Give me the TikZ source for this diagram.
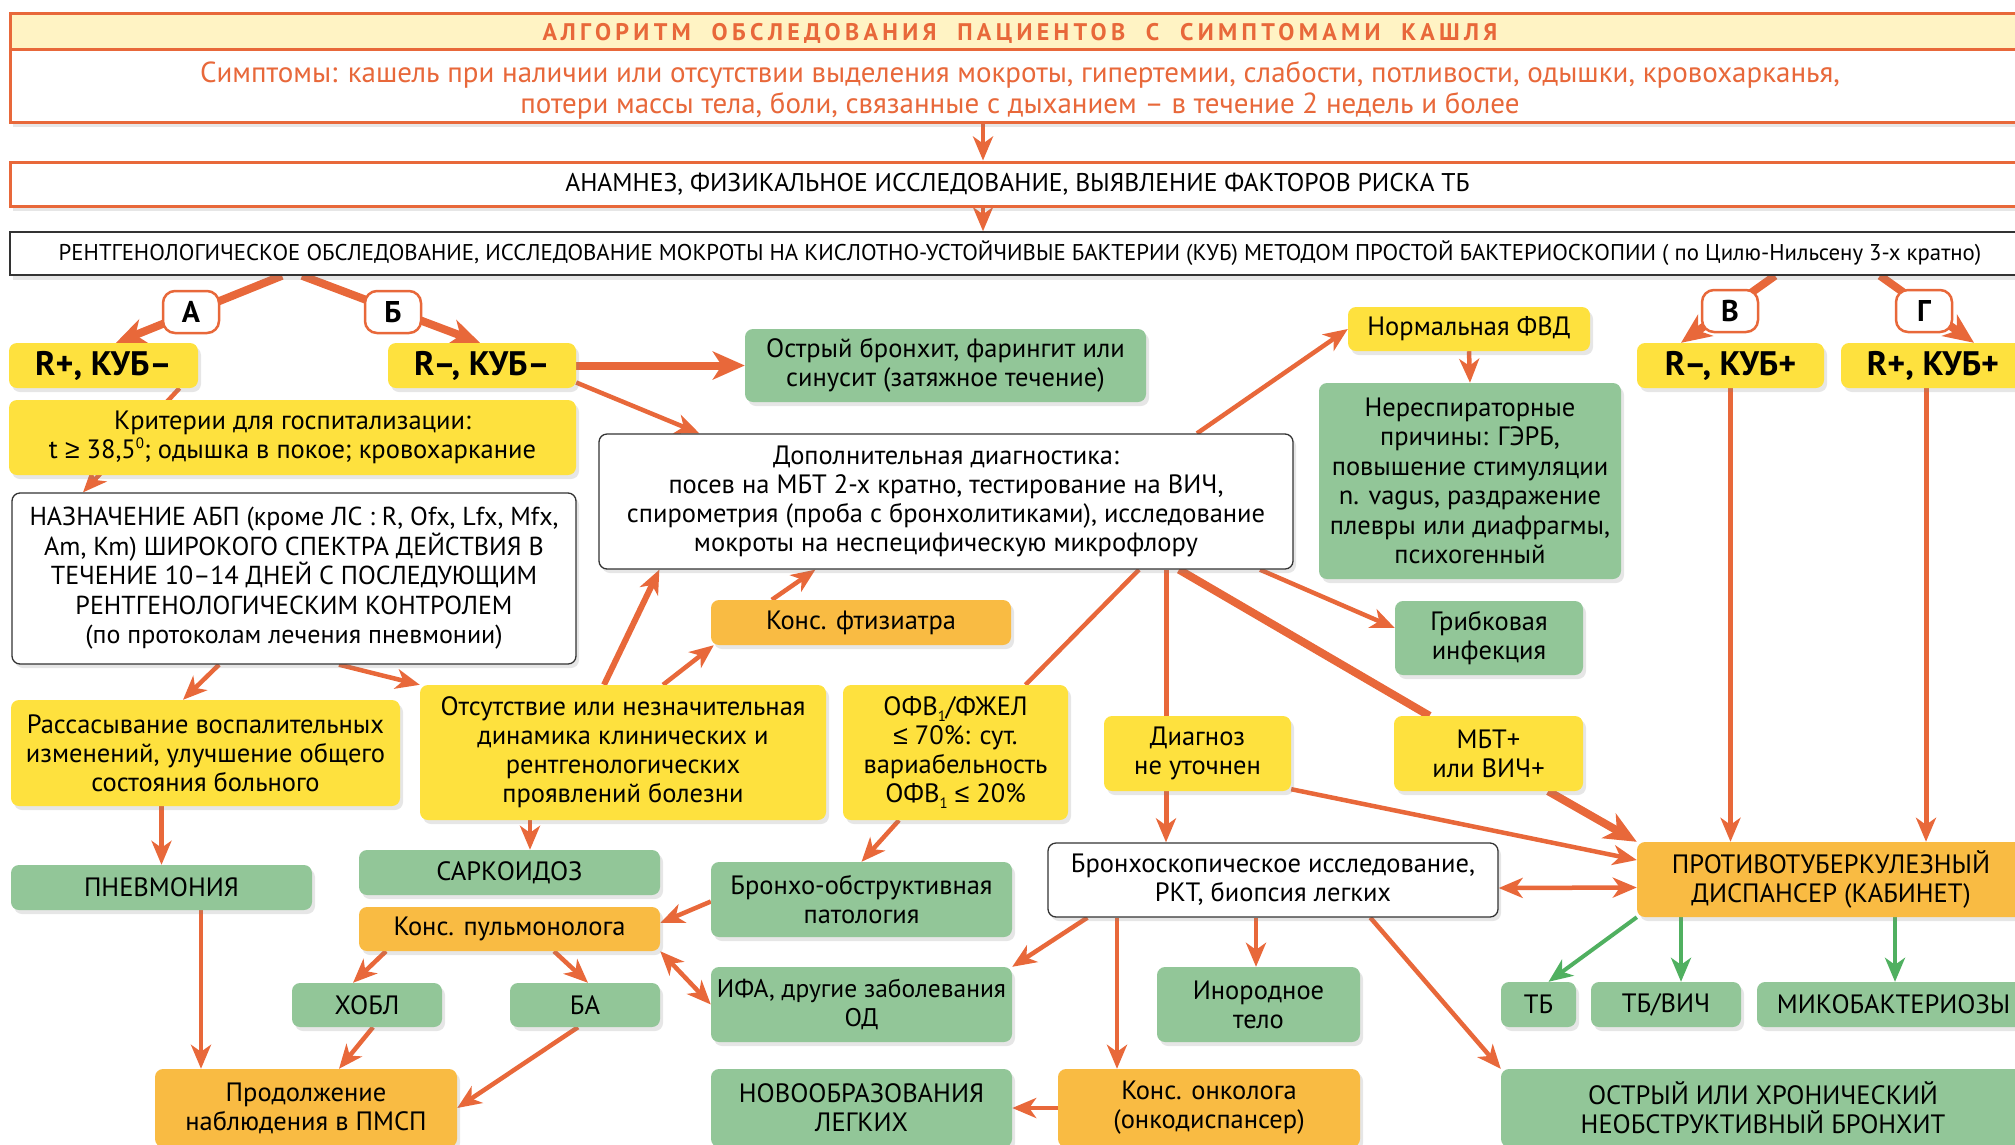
\documentclass[tikz,border=0pt]{standalone}
\usepackage{fontspec}
\setmainfont{PT Sans}
\newfontfamily\titlefont[LetterSpace=18]{PT Sans}
\newfontfamily\symf{Liberation Sans}
\usetikzlibrary{arrows.meta,shadows}
\definecolor{cyel}{HTML}{FEE13E}
\definecolor{cgrn}{HTML}{92C698}
\definecolor{corg}{HTML}{F9BB43}
\definecolor{carr}{HTML}{E8683A}
\definecolor{cband}{HTML}{FFF3C4}
\definecolor{cgarr}{HTML}{50B060}
\definecolor{cdark}{HTML}{333333}
\newcommand\fsz{\fontsize{26.5}{29}\selectfont}
\newcommand\fbig{\fontsize{34}{36}\selectfont\bfseries}
\newcommand\fsmall{\fontsize{22.8}{25}\selectfont}
\newcommand\mygeq{{\symf ≥}}
\newcommand\myleq{{\symf ≤}}
\newcommand\supzero{\raisebox{0.75ex}{\fontsize{15}{15}\selectfont 0}}
\newcommand\subone{\raisebox{-0.45ex}{\fontsize{15}{15}\selectfont 1}}
\pgfdeclarelayer{bg}
\pgfsetlayers{bg,main}
\tikzset{
 box/.style={rounded corners=8pt, inner sep=0pt, align=center, font=\fsz,
   drop shadow={opacity=0.2, shadow xshift=3pt, shadow yshift=-4pt}},
 ybox/.style={box, fill=cyel},
 gbox/.style={box, fill=cgrn},
 obox/.style={box, fill=corg},
 wbox/.style={box, fill=white, draw=cdark, line width=1.3pt},
 lbl/.style={rounded corners=12pt, fill=white, draw=carr, line width=2.5pt, minimum width=56pt, minimum height=42pt, inner sep=0pt, font=\fontsize{30}{31}\selectfont\bfseries},
 ln/.style={draw=carr, line width=4.5pt},
 arr/.style={ln, -{Stealth[length=24pt,width=20pt,inset=7pt]}},
 arrt/.style={draw=carr, line width=8pt, -{Stealth[length=32pt,width=28pt,inset=9pt]}},
 lnt/.style={draw=carr, line width=8pt},
 darr/.style={ln, {Stealth[length=24pt,width=20pt,inset=7pt]}-{Stealth[length=24pt,width=20pt,inset=7pt]}},
 garr/.style={draw=cgarr, line width=4pt, -{Stealth[length=24pt,width=20pt,inset=7pt]}},
}
\begin{document}
\begin{tikzpicture}[x=1pt,y=-1pt]
\useasboundingbox (0,0) rectangle (2015,1144);
% header
\node[draw=carr, line width=3pt, fill=white, minimum width=2015pt, minimum height=73pt, inner sep=0pt,
  drop shadow={opacity=0.2, shadow xshift=3pt, shadow yshift=-5pt}] (symp) at (1017.5,85.5) {};
\node[inner sep=0pt, align=center, text=carr, font=\fontsize{29}{31}\selectfont] (symptxt) at (1020,90)
  {Симптомы: кашель при наличии или отсутствии выделения мокроты, гипертемии, слабости, потливости, одышки, кровохарканья,\\ потери массы тела, боли, связанные с дыханием – в течение 2 недель и более};
\node[draw=carr, line width=3pt, fill=cband, minimum width=2015pt, minimum height=36pt, inner sep=0pt] (title) at (1017.5,31) {};
\node[text=carr, inner sep=0pt, font=\titlefont\bfseries\fontsize{24}{26}\selectfont] (titletxt) at (1020,33)
  {АЛГОРИТМ\ \ ОБСЛЕДОВАНИЯ\ \ ПАЦИЕНТОВ\ \ С\ \ СИМПТОМАМИ\ \ КАШЛЯ};
\node[draw=carr, line width=3pt, fill=white, minimum width=2015pt, minimum height=44pt, inner sep=0pt, font=\fontsize{25.6}{28}\selectfont,
  drop shadow={opacity=0.2, shadow xshift=3pt, shadow yshift=-5pt}] (anam) at (1017.5,184)
  {АНАМНЕЗ, ФИЗИКАЛЬНОЕ ИССЛЕДОВАНИЕ, ВЫЯВЛЕНИЕ ФАКТОРОВ РИСКА ТБ};
\node[draw=cdark, line width=1.5pt, fill=white, minimum width=2020pt, minimum height=43pt, inner sep=0pt, font=\fsmall,
  drop shadow={opacity=0.2, shadow xshift=3pt, shadow yshift=-5pt}] (rent) at (1020,253.5)
  {РЕНТГЕНОЛОГИЧЕСКОЕ ОБСЛЕДОВАНИЕ, ИССЛЕДОВАНИЕ МОКРОТЫ НА КИСЛОТНО-УСТОЙЧИВЫЕ БАКТЕРИИ (КУБ) МЕТОДОМ ПРОСТОЙ БАКТЕРИОСКОПИИ ( по Цилю-Нильсену 3-х кратно)};

% level boxes
\node[ybox, font=\fbig, minimum width=189pt, minimum height=45pt] (rk1) at (103.5,365.5) {R+, КУБ–};
\node[ybox, font=\fbig, minimum width=188pt, minimum height=45pt] (rk2) at (482,365.5) {R–, КУБ–};
\node[ybox, font=\fbig, minimum width=187pt, minimum height=45pt] (rk3) at (1730.5,365.5) {R–, КУБ+};
\node[ybox, font=\fbig, minimum width=184pt, minimum height=45pt] (rk4) at (1933,365.5) {R+, КУБ+};

\node[ybox, minimum width=567pt, minimum height=75pt] (krit) at (292.5,437.5) {Критерии для госпитализации:\\ t \mygeq{} 38,5\supzero; одышка в покое; кровохаркание};
\node[wbox, minimum width=564pt, minimum height=171pt, font=\fontsize{26}{29.5}\selectfont] (nazn) at (294,578.5) {НАЗНАЧЕНИЕ АБП (кроме ЛС : R, Ofx, Lfx, Mfx,\\ Am, Km) ШИРОКОГО СПЕКТРА ДЕЙСТВИЯ В\\ ТЕЧЕНИЕ 10–14 ДНЕЙ С ПОСЛЕДУЮЩИМ\\ РЕНТГЕНОЛОГИЧЕСКИМ КОНТРОЛЕМ\\ (по протоколам лечения пневмонии)};
\node[gbox, minimum width=401pt, minimum height=73pt] (ostr) at (945.5,365.5) {Острый бронхит, фарингит или\\ синусит (затяжное течение)};
\node[wbox, minimum width=694pt, minimum height=135pt] (dop) at (946,501.5) {Дополнительная диагностика:\\ посев на МБТ 2-х кратно, тестирование на ВИЧ,\\ спирометрия (проба с бронхолитиками), исследование\\ мокроты на неспецифическую микрофлору};
\node[ybox, minimum width=242pt, minimum height=44pt] (norm) at (1469,329) {Нормальная ФВД};
\node[gbox, minimum width=302pt, minimum height=196pt, font=\fontsize{26.5}{29.5}\selectfont] (nonresp) at (1470,481) {Нереспираторные\\ причины: ГЭРБ,\\ повышение стимуляции\\ n. vagus, раздражение\\ плевры или диафрагмы,\\ психогенный};
\node[gbox, minimum width=188pt, minimum height=74pt] (grib) at (1489,638) {Грибковая\\ инфекция};
\node[ybox, minimum width=189pt, minimum height=75pt] (mbt) at (1488.5,753.5) {МБТ+\\ или ВИЧ+};
\node[ybox, minimum width=187pt, minimum height=75pt] (diag) at (1197.5,753.5) {Диагноз\\ не уточнен};
\node[ybox, minimum width=225pt, minimum height=135pt] (ofv) at (955.5,752.5) {ОФВ\subone/ФЖЕЛ\\ \myleq{} 70\%: сут.\\ вариабельность\\ ОФВ\subone{} \myleq{} 20\%};
\node[ybox, minimum width=406pt, minimum height=135pt] (otsut) at (623,752.5) {Отсутствие или незначительная\\ динамика клинических и\\ рентгенологических\\ проявлений болезни};
\node[ybox, minimum width=389pt, minimum height=106pt] (rass) at (205.5,753) {Рассасывание воспалительных\\ изменений, улучшение общего\\ состояния больного};
\node[obox, minimum width=300pt, minimum height=45pt] (ftiz) at (861,622.5) {Конс. фтизиатра};
\node[gbox, minimum width=301pt, minimum height=45pt] (sark) at (509.5,872.5) {САРКОИДОЗ};
\node[gbox, minimum width=301pt, minimum height=45pt] (pnev) at (161.5,887.5) {ПНЕВМОНИЯ};
\node[obox, minimum width=301pt, minimum height=44pt] (pulm) at (509.5,929) {Конс. пульмонолога};
\node[gbox, minimum width=150pt, minimum height=44pt] (khobl) at (367,1005) {ХОБЛ};
\node[gbox, minimum width=150pt, minimum height=44pt] (ba) at (585,1005) {БА};
\node[obox, minimum width=302pt, minimum height=78pt] (prod) at (306,1108) {Продолжение\\ наблюдения в ПМСП};
\node[gbox, minimum width=301pt, minimum height=75pt] (bobs) at (861.5,899.5) {Бронхо-обструктивная\\ патология};
\node[gbox, minimum width=301pt, minimum height=75pt, font=\fontsize{25.5}{29}\selectfont] (ifa) at (861.5,1004.5) {ИФА, другие заболевания\\ ОД};
\node[wbox, minimum width=450pt, minimum height=74pt] (bronch) at (1273,880) {Бронхоскопическое исследование,\\ РКТ, биопсия легких};
\node[gbox, minimum width=203pt, minimum height=75pt] (inor) at (1258.5,1004.5) {Инородное\\ тело};
\node[obox, minimum width=302pt, minimum height=78pt] (onko) at (1209,1108) {Конс. онколога\\ (онкодиспансер)};
\node[gbox, minimum width=301pt, minimum height=78pt] (novo) at (861.5,1108) {НОВООБРАЗОВАНИЯ\\ ЛЕГКИХ};
\node[obox, minimum width=388pt, minimum height=75pt] (protiv) at (1831,879.5) {ПРОТИВОТУБЕРКУЛЕЗНЫЙ\\ ДИСПАНСЕР (КАБИНЕТ)};
\node[gbox, minimum width=75pt, minimum height=45pt] (tb) at (1538.5,1004.5) {ТБ};
\node[gbox, minimum width=150pt, minimum height=45pt] (tbvich) at (1666,1004.5) {ТБ/ВИЧ};
\node[gbox, minimum width=273pt, minimum height=45pt] (mikob) at (1893.5,1004.5) {МИКОБАКТЕРИОЗЫ};
\node[gbox, minimum width=524pt, minimum height=78pt] (ostrkhr) at (1763,1108) {ОСТРЫЙ ИЛИ ХРОНИЧЕСКИЙ\\ НЕОБСТРУКТИВНЫЙ БРОНХИТ};

\begin{pgfonlayer}{bg}
\draw[arr] ([xshift=-34.5pt]symp.south) -- ([xshift=-34.5pt]anam.north);
\draw[arr] ([xshift=-34.5pt]anam.south) -- ([xshift=-37pt]rent.north);
% A B V G
\draw[lnt, -{Stealth[length=30pt,width=26pt,inset=9pt]}] (rent.south -| 282,0) -- ([xshift=12.5pt]rk1.north);
\draw[lnt, -{Stealth[length=30pt,width=26pt,inset=9pt]}] (rent.south -| 302,0) -- ([xshift=-2pt]rk2.north);
\draw[lnt, -{Stealth[length=30pt,width=26pt,inset=9pt]}] (rent.south -| 1775,0) -- ([xshift=-49.5pt]rk3.north);
\draw[lnt, -{Stealth[length=30pt,width=26pt,inset=9pt]}] (rent.south -| 1880,0) -- ([xshift=41pt]rk4.north);
% left branch
\draw[arr] ([xshift=76pt]rk1.south) -- ([xshift=-211pt]nazn.north);
\draw[arrt] (rk2.east) -- (ostr.west);
\draw[arr] ([yshift=-17pt]rk2.east) -- ([xshift=101pt]dop.north west);
\draw[arr] ([xshift=-75pt]nazn.south) -- ([xshift=-22.5pt]rass.north);
\draw[arr] ([xshift=45pt]nazn.south) -- (otsut.north west);
\draw[arr] (rass.south -| pnev.north) -- (pnev.north);
\draw[arr] ([xshift=39.5pt]pnev.south) -- ([xshift=-105pt]prod.north);
\draw[arr, line width=6pt] ([xshift=-19pt]otsut.north) -- ([xshift=61pt]dop.south west);
\draw[arr] ([xshift=40pt]otsut.north) -- ([xshift=3pt]ftiz.south west);
\draw[arr] ([xshift=61pt]ftiz.north west) -- ([xshift=217pt]dop.south west);
\draw[arr] ([xshift=-93pt]otsut.south) -- ([xshift=20.5pt]sark.north);
\draw[arr] ([xshift=-123.5pt]pulm.south) -- ([xshift=-14pt]khobl.north);
\draw[arr] ([xshift=44.5pt]pulm.south) -- ([xshift=3pt]ba.north);
\draw[arr] ([xshift=6pt]khobl.south) -- ([xshift=33pt]prod.north);
\draw[arr] ([xshift=-7pt]ba.south) -- (prod.east);
% middle
\draw[ln] ([xshift=70pt]ofv.north) -- ([xshift=193pt]dop.south);
\draw[arr] ([xshift=-56.5pt]ofv.south) -- (bobs.north);
\draw[arr] ([yshift=-2pt]bobs.west) -- ([yshift=6pt]pulm.east);
\draw[darr] (ifa.west) -- (pulm.south east);
\draw[ln, line width=5pt] ([xshift=220pt]dop.south) -- ([xshift=-31.5pt]diag.north);
\draw[lnt] ([xshift=233pt]dop.south) -- ([xshift=-59pt]mbt.north);
\draw[arr] ([xshift=314pt]dop.south) -- ([yshift=10pt]grib.west);
\draw[arr] ([xshift=251pt]dop.north) -- (norm.west);
\draw[arr] (norm.south) -- (nonresp.north);
\draw[arr, line width=5pt] ([xshift=-31.5pt]diag.south) -- ([xshift=-107pt]bronch.north);
\draw[arr] ([yshift=2pt]diag.south east) -- ([yshift=19.5pt]protiv.west);
\draw[arrt] ([xshift=-35pt]mbt.south east) -- (protiv.north west);
\draw[darr] ([yshift=-8pt]bronch.east) -- ([yshift=-8pt]protiv.west);
\draw[arr] ([xshift=40pt]bronch.south west) -- (ifa.north east);
\draw[arr] ([xshift=-156pt]bronch.south) -- ([xshift=-92pt]onko.north);
\draw[arr] ([xshift=-17pt]bronch.south) -- ([xshift=-2.5pt]inor.north);
\draw[arr] (onko.west) -- (novo.east);
\draw[arr] ([xshift=323pt]bronch.south west) -- (ostrkhr.north west);
% right
\draw[arr, line width=5pt] (rk3.south) -- (protiv.north -| rk3.south);
\draw[arr, line width=5pt] ([xshift=-7pt]rk4.south) -- ([xshift=95pt]protiv.north);
\draw[garr] (protiv.south west) -- ([xshift=10pt]tb.north);
\draw[garr] ([xshift=-150pt]protiv.south) -- ([xshift=15pt]tbvich.north);
\draw[garr] ([xshift=64pt]protiv.south) -- ([xshift=1.5pt]mikob.north);
\end{pgfonlayer}

% branch labels
\node[lbl] (la) at (191,312) {А};
\node[lbl] (lb) at (393,312) {Б};
\node[lbl] (lv) at (1730,311) {В};
\node[lbl] (lg) at (1924,311) {Г};
\end{tikzpicture}
\end{document}
